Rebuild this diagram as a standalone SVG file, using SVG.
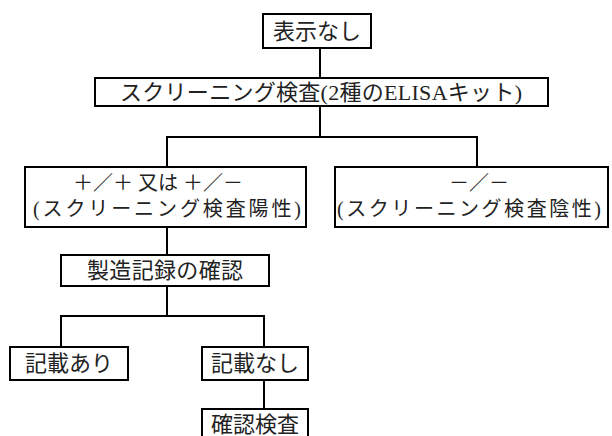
<svg xmlns="http://www.w3.org/2000/svg" width="612" height="436" viewBox="0 0 612 436">
<style>
rect.box{fill:#fff;stroke:#000;stroke-width:2}
.conn path{fill:none;stroke:#000;stroke-width:2}
text{font-family:"Liberation Serif","Noto Sans CJK JP",serif;font-size:22px;fill:#222;text-anchor:middle;dominant-baseline:central}
text.s{font-size:20px}
</style>
<rect width="612" height="436" fill="#fff"/>
<g class="conn">
<path d="M320 48V78"/>
<path d="M320 106V137M167 167V137H477V167"/>
<path d="M167 227V255"/>
<path d="M167 286V316M61 347V316H264V347"/>
<path d="M264 380V409"/>
</g>
<g id="n1"><rect class="box" x="263" y="14" width="108" height="34"/><text x="317" y="31">表示なし</text></g>
<g id="n2"><rect class="box" x="95" y="78" width="453" height="28"/><text x="321" y="92" textLength="402" lengthAdjust="spacing">スクリーニング検査(2種のELISAキット)</text></g>
<g id="n3"><rect class="box" x="25" y="167" width="281" height="60"/><text class="s" x="158" y="183">＋／＋ 又は ＋／－</text><text class="s" x="167" y="209" textLength="268" lengthAdjust="spacing">(スクリーニング検査陽性)</text></g>
<g id="n4"><rect class="box" x="335" y="167" width="273" height="60"/><text class="s" x="479" y="183">－／－</text><text class="s" x="469" y="209" textLength="264" lengthAdjust="spacing">(スクリーニング検査陰性)</text></g>
<g id="n5"><rect class="box" x="61" y="255" width="208" height="31"/><text x="165" y="270" textLength="156" lengthAdjust="spacing">製造記録の確認</text></g>
<g id="n6"><rect class="box" x="10" y="347" width="118" height="33"/><text x="69" y="363">記載あり</text></g>
<g id="n7"><rect class="box" x="202" y="347" width="106" height="33"/><text x="255" y="363">記載なし</text></g>
<g id="n8"><rect class="box" x="202" y="409" width="106" height="40"/><text x="255" y="424">確認検査</text></g>
</svg>
